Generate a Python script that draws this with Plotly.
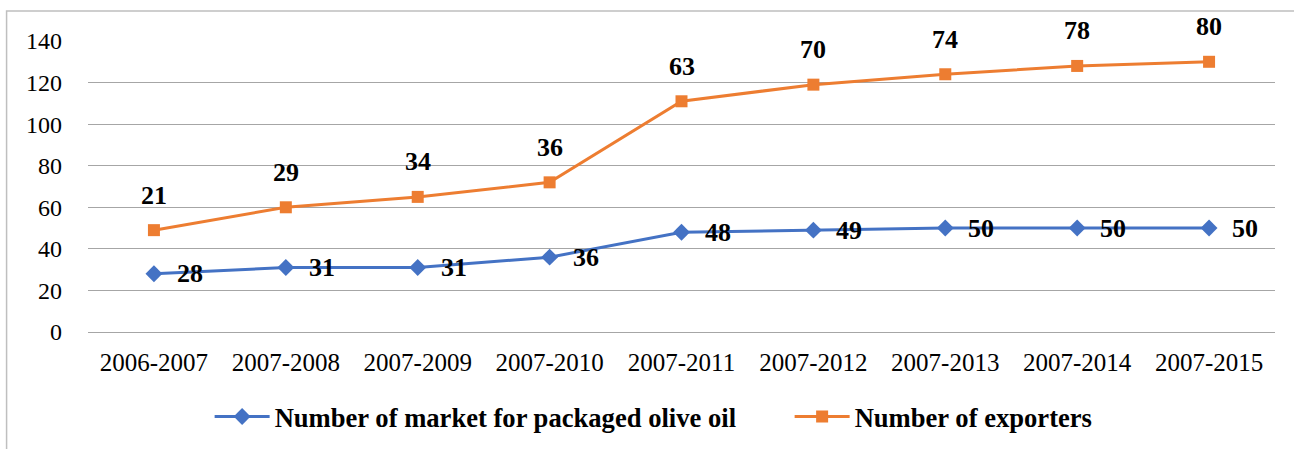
import plotly.graph_objects as go

periods = ["2006-2007", "2007-2008", "2007-2009", "2007-2010", "2007-2011",
           "2007-2012", "2007-2013", "2007-2014", "2007-2015"]
markets = [28, 31, 31, 36, 48, 49, 50, 50, 50]
exporters = [21, 29, 34, 36, 63, 70, 74, 78, 80]

# stacked line: exporters drawn on top of the markets series
exporters_stacked = [m + e for m, e in zip(markets, exporters)]

BLUE = "#4472C4"
ORANGE = "#ED7D31"
FONT = "Times New Roman, Liberation Serif, serif"

fig = go.Figure()
fig.add_trace(go.Scatter(
    x=periods, y=markets, mode="lines+markers",
    name="Number of market for packaged olive oil",
    line=dict(color=BLUE, width=3),
    marker=dict(symbol="diamond", size=13, color=BLUE),
))
fig.add_trace(go.Scatter(
    x=periods, y=exporters_stacked, mode="lines+markers",
    name="Number of exporters",
    line=dict(color=ORANGE, width=3),
    marker=dict(symbol="square", size=12, color=ORANGE),
))

label_font = dict(family=FONT, size=26, color="black", weight="bold")
annotations = []
for p, m in zip(periods, markets):
    annotations.append(dict(x=p, y=m, text=str(m), showarrow=False,
                            xshift=36, yshift=0, font=label_font))
for p, s, e in zip(periods, exporters_stacked, exporters):
    annotations.append(dict(x=p, y=s, text=str(e), showarrow=False,
                            yshift=35, font=label_font))

fig.update_layout(
    width=1294, height=449,
    margin=dict(l=88, r=19, t=41, b=117),
    paper_bgcolor="white", plot_bgcolor="white",
    font=dict(family=FONT, size=24, color="black"),
    annotations=annotations,
    showlegend=True,
    legend=dict(orientation="h", xref="container", x=0.162, xanchor="left",
                yref="container", y=0.072, yanchor="middle",
                font=dict(family=FONT, size=26.6, color="black", weight="bold"),
                itemwidth=55, tracegroupgap=0,
                entrywidth=510, entrywidthmode="pixels"),
    shapes=[dict(type="rect", xref="paper", yref="paper",
                 x0=-0.0686, x1=1.05, y0=-0.5, y1=1.103,
                 line=dict(color="#BFBFBF", width=1.5), layer="below")],
)
fig.update_xaxes(range=[-0.5, 8.5], showgrid=False, showline=False, ticks="",
                 ticklabelstandoff=13,
                 tickfont=dict(family=FONT, size=25, color="black"))
fig.update_yaxes(range=[0, 140], dtick=20, showgrid=True, gridcolor="#A6A6A6", gridwidth=1.3,
                 zeroline=True, zerolinecolor="#A6A6A6", zerolinewidth=1.3,
                 showline=False, ticks="", ticklabelstandoff=25,
                 tickfont=dict(family=FONT, size=24, color="black"))

fig.write_html("out.html")
